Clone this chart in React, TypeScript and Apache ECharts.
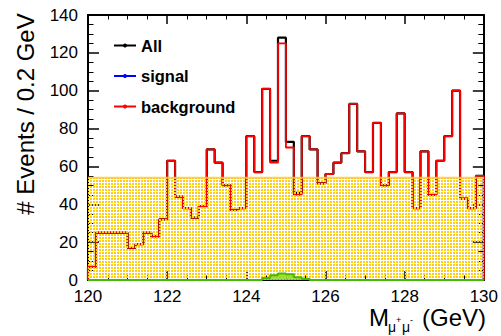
import React, { useEffect, useRef } from "react";
import * as echarts from "echarts";

// Histogram binning (GeV)
const X_MIN = 120;
const X_MAX = 130;
const BIN_WIDTH = 0.2;
const Y_MIN = 0;
const Y_MAX = 140;

// Events per 0.2 GeV bin, 120.0 -> 130.0 (50 bins)
const allCounts = [
  7, 25, 25, 25, 25, 17, 19, 25, 23, 32,
  63, 44, 38, 33, 39, 69, 62, 50, 37, 38,
  76, 57, 101, 63, 128, 73, 46, 76, 69, 51,
  56, 62, 67, 93, 68, 57, 83, 50, 57, 88,
  57, 38, 68, 45, 63, 76, 100, 43, 38, 55,
];
const backgroundCounts = [
  7, 25, 25, 25, 25, 17, 19, 25, 23, 32,
  63, 44, 38, 33, 39, 69, 62, 50, 37, 38,
  76, 57, 101, 62, 125, 70, 45, 76, 69, 51,
  56, 62, 67, 93, 68, 57, 83, 50, 57, 88,
  57, 38, 68, 45, 63, 76, 100, 43, 38, 55,
];
const signalCounts = [
  0, 0, 0, 0, 0, 0, 0, 0, 0, 0,
  0, 0, 0, 0, 0, 0, 0, 0, 0, 0,
  0, 0, 1, 2.5, 3.5, 3, 1.5, 0.5, 0, 0,
  0, 0, 0, 0, 0, 0, 0, 0, 0, 0,
  0, 0, 0, 0, 0, 0, 0, 0, 0, 0,
];
// flat background band level
const bandLevel = [54, 54];
const bandEdges = [X_MIN, X_MAX];

const FONT = "'Liberation Sans', Arial, Helvetica, sans-serif";

function stepData(counts: number[]): [number, number][] {
  const pts: [number, number][] = [[X_MIN, 0]];
  counts.forEach((c, i) => {
    pts.push([Math.round((X_MIN + i * BIN_WIDTH) * 100) / 100, c]);
  });
  pts.push([X_MAX, counts[counts.length - 1]]);
  pts.push([X_MAX, 0]);
  return pts;
}

export default function App() {
  const ref = useRef<HTMLDivElement>(null);

  useEffect(() => {
    document.body.style.margin = "0";
    if (!ref.current) return;
    const chart = echarts.init(ref.current, null, { renderer: "svg" });

    const cv = document.createElement("canvas");
    cv.width = 3;
    cv.height = 3;
    const ctx = cv.getContext("2d");
    if (ctx) {
      ctx.clearRect(0, 0, 3, 3);
      ctx.fillStyle = "#ffcc10";
      ctx.fillRect(0, 0, 2, 2);
    }

    const xAxisBase = {
      type: "value" as const,
      min: X_MIN,
      max: X_MAX,
      interval: 2,
      axisLine: { show: true, onZero: false, lineStyle: { color: "#000", width: 2 } },
      axisTick: { show: true, inside: true, length: 9, lineStyle: { color: "#000", width: 1.5 } },
      minorTick: { show: true, splitNumber: 4, length: 4.5, lineStyle: { color: "#000", width: 1 } },
      splitLine: { show: false },
      minorSplitLine: { show: false },
    };
    const yAxisBase = {
      type: "value" as const,
      min: Y_MIN,
      max: Y_MAX,
      interval: 20,
      axisLine: { show: true, onZero: false, lineStyle: { color: "#000", width: 2 } },
      axisTick: { show: true, inside: true, length: 11, lineStyle: { color: "#000", width: 1.5 } },
      minorTick: { show: true, splitNumber: 4, length: 5.5, lineStyle: { color: "#000", width: 1 } },
      splitLine: { show: false },
      minorSplitLine: { show: false },
    };

    const option: any = {
      animation: false,
      backgroundColor: "#fff",
      grid: { left: 88, right: 16, top: 15, bottom: 56, containLabel: false },
      xAxis: [
        {
          ...xAxisBase,
          position: "bottom",
          axisLabel: { show: true, color: "#000", fontSize: 17, fontFamily: FONT, margin: 8 },
        },
        { ...xAxisBase, position: "top", axisLabel: { show: false } },
      ],
      yAxis: [
        {
          ...yAxisBase,
          position: "left",
          axisLabel: { show: true, color: "#000", fontSize: 17, fontFamily: FONT, margin: 10 },
        },
        { ...yAxisBase, position: "right", axisLabel: { show: false } },
      ],
      legend: {
        orient: "vertical",
        left: 113,
        top: 37,
        padding: 0,
        itemWidth: 22,
        itemHeight: 5,
        itemGap: 13.5,
        textStyle: { color: "#000", fontSize: 16.5, fontWeight: "bold", fontFamily: FONT },
        data: [
          { name: "All" },
          { name: "signal", itemStyle: { color: "#0000ff" }, lineStyle: { color: "#0000ff", width: 2 } },
          { name: "background" },
        ],
      },
      graphic: [
        {
          type: "text",
          x: 25,
          y: 114,
          rotation: Math.PI / 2,
          style: {
            text: "# Events / 0.2 GeV",
            fill: "#000",
            fontSize: 24,
            fontFamily: FONT,
            align: "center",
            verticalAlign: "middle",
          },
        },
        {
          type: "text",
          x: 369,
          y: 317,
          style: { text: "M", fill: "#000", fontSize: 24, fontFamily: FONT, align: "left", verticalAlign: "middle" },
        },
        {
          type: "text",
          x: 388,
          y: 327,
          style: { text: "μ", fill: "#000", fontSize: 14, fontFamily: FONT, align: "left", verticalAlign: "middle" },
        },
        {
          type: "text",
          x: 396,
          y: 320,
          style: { text: "+", fill: "#000", fontSize: 9, fontFamily: FONT, align: "left", verticalAlign: "middle" },
        },
        {
          type: "text",
          x: 402,
          y: 327,
          style: { text: "μ", fill: "#000", fontSize: 14, fontFamily: FONT, align: "left", verticalAlign: "middle" },
        },
        {
          type: "text",
          x: 410,
          y: 320,
          style: { text: "-", fill: "#000", fontSize: 9, fontFamily: FONT, align: "left", verticalAlign: "middle" },
        },
        {
          type: "text",
          x: 422,
          y: 317,
          style: { text: "(GeV)", fill: "#000", fontSize: 24, fontFamily: FONT, align: "left", verticalAlign: "middle" },
        },
      ],
      series: [
        {
          name: "All",
          type: "line",
          step: "end",
          data: stepData(allCounts),
          symbol: "circle",
          symbolSize: 4,
          showSymbol: false,
          color: "#000",
          lineStyle: { color: "#000", width: 2.2 },
          z: 2,
        },
        {
          name: "background",
          type: "line",
          step: "end",
          data: stepData(backgroundCounts),
          symbol: "circle",
          symbolSize: 4,
          showSymbol: false,
          color: "#ff0000",
          lineStyle: { color: "#ff0000", width: 1.8 },
          z: 3,
        },
        {
          name: "band",
          type: "line",
          data: bandEdges.map((x, i) => [x, bandLevel[i]]),
          symbol: "none",
          lineStyle: { color: "#ffc040", width: 2, opacity: 0.8 },
          areaStyle: {
            color: { image: cv, repeat: "repeat", imageWidth: 3, imageHeight: 3 },
            opacity: 1,
          },
          z: 4,
        },
        {
          name: "signal",
          type: "line",
          step: "end",
          data: stepData(signalCounts),
          symbol: "circle",
          symbolSize: 4,
          showSymbol: false,
          color: "#0000ff",
          lineStyle: { color: "#44bb00", width: 2 },
          areaStyle: { color: "#88d822", opacity: 0.8 },
          z: 5,
        },
      ],
    };

    chart.setOption(option);
    return () => {
      chart.dispose();
    };
  }, []);

  return <div ref={ref} style={{ width: 501, height: 336 }} />;
}
